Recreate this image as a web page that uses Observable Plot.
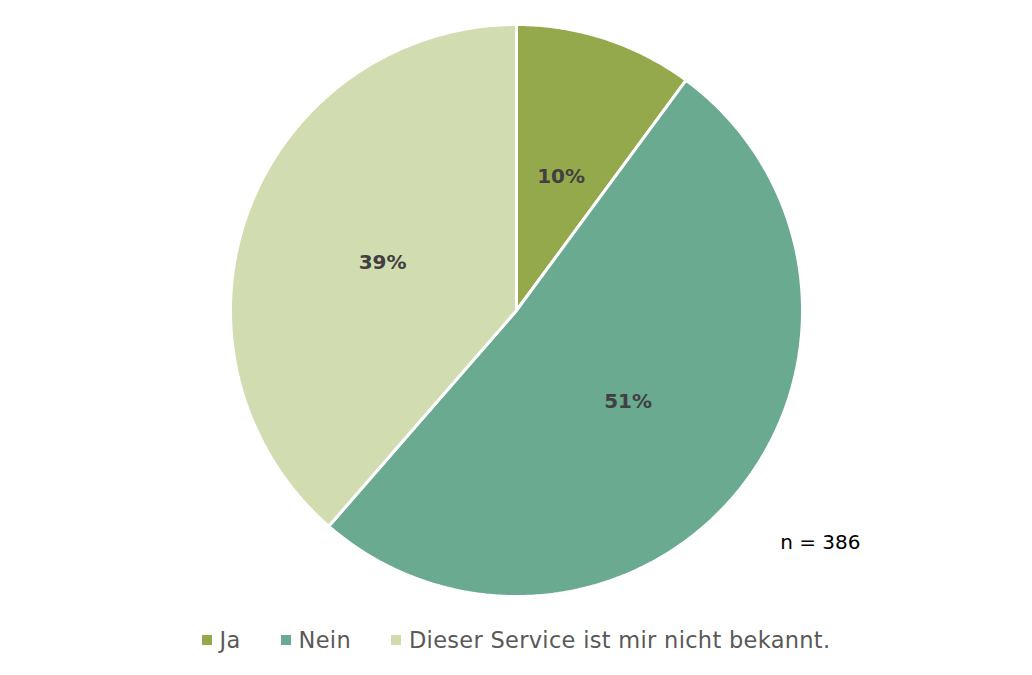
<!DOCTYPE html>
<html>
<head>
<meta charset="utf-8">
<script src="https://cdn.jsdelivr.net/npm/d3@7"></script>
<script src="https://cdn.jsdelivr.net/npm/@observablehq/plot@0.6"></script>
<style>
  html, body { margin: 0; padding: 0; background: #fff; }
  #chart { width: 1032px; height: 675px; position: relative; }
  .legend { display: flex; justify-content: center; align-items: center; font-family: "DejaVu Sans", sans-serif; font-size: 22.5px; letter-spacing: 0.3px; color: #595959; height: 30px; margin-top: 0px; }
  .legend .item { display: flex; align-items: center; margin: 0 20px; }
  .legend .sw { width: 10px; height: 10px; margin-right: 8px; }
</style>
</head>
<body>
<div id="chart"></div>
<script>
const categories = ["Ja", "Nein", "Dieser Service ist mir nicht bekannt."];
const counts = [39, 198, 149];
const colors = ["#94A94C", "#69AA90", "#D2DCB1"];
const note = "n = 386";

const total = d3.sum(counts);
const pie = d3.pie().sort(null).value(d => d.count);
const arcs = pie(categories.map((c, i) => ({category: c, count: counts[i]})));

// Polygon points for each slice (angle measured clockwise from top)
const slicePts = [];
for (const a of arcs) {
  const n = Math.max(2, Math.ceil((a.endAngle - a.startAngle) / (Math.PI / 360)));
  slicePts.push({category: a.data.category, x: 0, y: 0});
  for (let k = 0; k <= n; k++) {
    const t = a.startAngle + (a.endAngle - a.startAngle) * k / n;
    slicePts.push({category: a.data.category, x: Math.sin(t), y: Math.cos(t)});
  }
}
const labels = arcs.map(a => {
  const t = (a.startAngle + a.endAngle) / 2;
  return {label: Math.round(a.data.count / total * 100) + "%", x: 0.5 * Math.sin(t), y: 0.5 * Math.cos(t)};
});

const plot = Plot.plot({
  width: 1032,
  height: 625,
  margin: 0,
  x: {domain: [-1, 1], range: [230, 802], axis: null},
  y: {domain: [-1, 1], range: [596, 24], axis: null},
  color: {domain: categories, range: colors},
  style: {fontFamily: "'DejaVu Sans', sans-serif", background: "#fff"},
  marks: [
    Plot.line(slicePts, {x: "x", y: "y", z: "category", fill: "category", stroke: "#fff", strokeWidth: 3, curve: "linear-closed", strokeLinejoin: "miter"}),
    Plot.text(labels, {x: "x", y: "y", text: "label", fill: "#404040", fontWeight: "bold", fontSize: 20, dy: 2}),
    Plot.text([note], {x: [0.922], y: [-0.81], text: d => d, textAnchor: "start", fill: "#000", fontSize: 20})
  ]
});
document.getElementById("chart").appendChild(plot);

const legend = document.createElement("div");
legend.className = "legend";
categories.forEach((c, i) => {
  const item = document.createElement("div");
  item.className = "item";
  const sw = document.createElement("span");
  sw.className = "sw";
  sw.style.background = colors[i];
  const tx = document.createElement("span");
  tx.textContent = c;
  item.appendChild(sw);
  item.appendChild(tx);
  legend.appendChild(item);
});
document.getElementById("chart").appendChild(legend);
</script>
</body>
</html>
